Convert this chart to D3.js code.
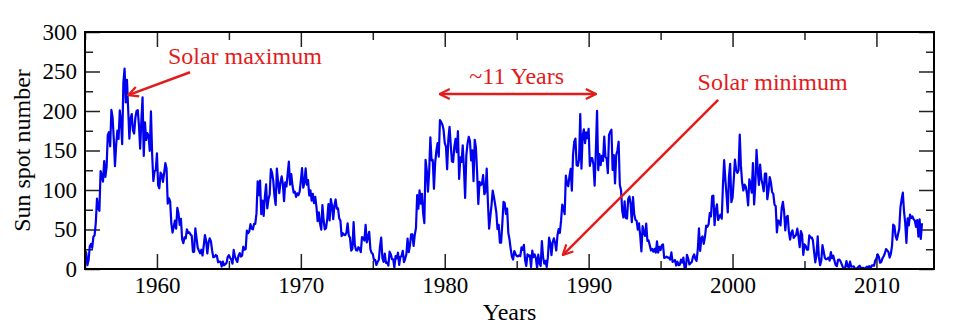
<!DOCTYPE html>
<html>
<head>
<meta charset="utf-8">
<script src="https://cdn.jsdelivr.net/npm/d3@7"></script>
<style>
  body { margin: 0; background: #fff; }
  text { font-family: "Liberation Serif", "Times New Roman", serif; }
</style>
</head>
<body>
<div id="chart"></div>
<script>
// monthly sun spot numbers, January 1955 onwards
const startYear = 1955;

const spots1955 = [
  23.1, 20.8, 4.9, 11.3, 28.9, 31.7, 26.7, 40.7, 42.7, 58.5, 89.2, 76.9,
  73.6, 124.0, 118.4, 110.7, 136.6, 116.6, 129.1, 169.6, 173.2, 155.3, 201.3, 192.1,
  165.0, 130.2, 157.4, 175.2, 164.6, 200.7, 187.2, 158.0, 235.8, 253.8, 210.9, 239.4,
  202.5, 164.9, 190.7, 196.0, 175.3, 171.5, 191.4, 200.2, 201.2, 181.5, 152.3, 187.6,
  217.4, 143.1, 185.7, 163.3, 172.0, 168.7, 149.6, 199.6, 145.2, 111.4, 124.0, 125.0,
  146.3, 106.0, 102.2, 122.0, 119.6, 110.2, 121.7, 134.1, 127.2, 82.8, 89.6, 85.6,
  57.9, 46.1, 53.0, 61.4, 51.0, 77.4, 70.2, 55.9, 63.6, 37.7, 32.6, 40.0,
  38.7, 50.3, 45.6, 46.4, 43.7, 42.0, 21.8, 21.8, 51.3, 39.5, 26.9, 23.2,
  19.8, 24.4, 17.1, 29.3, 43.0, 35.9, 19.6, 33.2, 38.8, 35.3, 23.4, 14.9,
  15.3, 17.7, 16.5, 8.6, 9.5, 9.1, 3.1, 9.3, 4.7, 6.1, 7.4, 15.1
];

const spots1965 = [
  17.5, 14.2, 11.7, 6.8, 24.1, 15.9, 11.9, 8.9, 16.8, 20.1, 15.8, 17.0,
  28.2, 24.4, 25.3, 48.7, 45.3, 47.7, 56.7, 51.2, 50.2, 57.2, 57.2, 70.4,
  110.9, 93.6, 111.8, 69.5, 86.5, 67.3, 91.5, 107.2, 76.8, 88.2, 94.3, 126.4,
  121.8, 111.9, 92.2, 81.2, 127.2, 110.3, 96.1, 109.3, 117.2, 107.7, 86.0, 109.8,
  104.4, 120.5, 135.8, 106.8, 120.0, 106.0, 96.8, 98.0, 91.3, 95.7, 93.5, 97.9,
  111.5, 127.8, 102.9, 109.5, 127.5, 106.8, 112.5, 93.0, 99.5, 86.6, 95.2, 83.5,
  91.3, 79.0, 60.7, 71.8, 57.5, 49.8, 81.0, 61.4, 50.2, 51.7, 63.2, 82.2,
  61.5, 88.4, 80.1, 63.2, 80.5, 88.0, 76.5, 76.8, 64.0, 61.3, 41.6, 45.3,
  43.4, 42.9, 46.0, 57.7, 42.4, 39.5, 23.1, 25.6, 59.3, 30.7, 23.9, 23.3,
  27.6, 26.0, 21.3, 40.3, 39.5, 36.0, 55.8, 33.6, 40.2, 47.1, 25.0, 20.5
];

const spots1975 = [
  18.9, 11.5, 11.5, 5.1, 9.0, 11.4, 28.2, 39.7, 13.9, 9.1, 19.4, 7.8,
  8.1, 4.3, 21.9, 18.8, 12.4, 12.2, 1.9, 16.4, 13.5, 20.6, 5.2, 15.3,
  16.4, 23.1, 8.7, 12.9, 18.6, 38.5, 21.4, 30.1, 44.0, 43.8, 29.1, 43.2,
  51.9, 93.6, 76.5, 99.7, 82.7, 95.1, 70.4, 58.1, 138.2, 125.1, 97.9, 122.7,
  166.6, 137.5, 138.0, 101.5, 134.4, 149.5, 159.4, 142.2, 188.4, 186.2, 183.0, 176.3,
  159.6, 155.0, 126.2, 164.1, 179.9, 157.3, 136.3, 135.4, 155.0, 164.7, 147.9, 174.4,
  114.0, 141.3, 135.5, 156.4, 127.5, 90.0, 143.8, 158.7, 167.3, 162.4, 137.5, 150.1,
  111.2, 163.6, 153.8, 122.0, 82.2, 110.4, 106.1, 107.6, 118.8, 94.7, 98.1, 127.0,
  84.3, 51.0, 66.5, 80.7, 99.2, 91.1, 82.2, 71.8, 50.3, 55.8, 33.3, 33.4,
  57.0, 85.1, 83.5, 69.7, 76.4, 46.1, 37.4, 25.5, 15.7, 12.0, 22.8, 18.7
];

const spots1985 = [
  16.5, 15.9, 17.2, 16.2, 27.5, 24.2, 30.7, 11.1, 3.9, 18.6, 16.2, 17.3,
  2.5, 23.2, 15.1, 18.5, 13.7, 1.1, 18.1, 7.4, 3.8, 35.4, 15.2, 6.8,
  10.4, 2.4, 14.7, 39.6, 33.0, 17.4, 33.9, 38.8, 33.3, 23.4, 42.7, 50.5,
  45.6, 61.2, 81.6, 76.8, 69.5, 118.3, 107.6, 104.8, 117.5, 126.8, 99.1, 144.9,
  161.3, 165.1, 131.4, 130.6, 138.5, 196.2, 126.9, 168.9, 176.7, 159.4, 173.0, 165.5,
  177.3, 130.5, 140.3, 140.3, 132.2, 105.4, 149.4, 200.3, 125.2, 145.5, 131.4, 143.1,
  136.9, 167.5, 141.9, 140.0, 121.3, 169.7, 173.7, 176.3, 125.3, 144.1, 108.2, 144.4,
  150.0, 161.1, 106.7, 99.8, 73.8, 65.2, 85.7, 64.5, 63.9, 88.7, 91.8, 82.6,
  59.3, 91.0, 69.8, 62.2, 61.3, 49.8, 57.9, 42.3, 22.2, 54.2, 46.3, 41.9,
  57.5, 35.6, 36.2, 29.9, 23.5, 25.4, 21.9, 25.5, 20.7, 34.9, 20.8, 28.0
];

const spots1995 = [
  24.0, 29.9, 31.1, 14.0, 14.5, 15.6, 14.5, 14.3, 11.8, 21.1, 9.0, 10.0,
  11.5, 4.4, 9.2, 4.8, 5.5, 11.8, 8.2, 14.4, 1.6, 0.9, 17.9, 13.3,
  5.7, 7.6, 8.7, 15.5, 18.5, 12.7, 10.4, 24.4, 51.3, 22.8, 39.0, 41.2,
  31.9, 40.3, 54.8, 53.4, 56.3, 70.7, 66.6, 92.2, 92.9, 55.5, 74.0, 81.9,
  62.0, 66.3, 68.8, 63.7, 106.4, 137.7, 113.5, 93.7, 71.5, 116.7, 133.2, 84.6,
  90.1, 112.9, 138.5, 125.5, 121.6, 124.9, 170.1, 130.5, 109.7, 99.4, 106.8, 104.4,
  95.6, 80.6, 113.5, 107.7, 96.6, 134.0, 81.8, 106.4, 150.7, 125.5, 106.5, 132.2,
  114.1, 107.4, 98.4, 120.7, 120.8, 88.3, 99.6, 116.4, 109.6, 97.5, 95.0, 81.6,
  79.5, 46.2, 61.5, 60.0, 55.2, 77.4, 85.0, 72.7, 48.8, 65.5, 67.3, 47.0,
  37.2, 46.0, 48.9, 39.3, 41.5, 43.2, 51.1, 40.9, 27.7, 48.0, 43.5, 17.9
];

const spots2005 = [
  31.3, 29.2, 24.5, 24.4, 42.6, 39.6, 39.9, 36.4, 22.1, 8.5, 18.0, 41.2,
  15.3, 4.9, 10.6, 30.2, 22.3, 13.9, 12.2, 12.9, 14.4, 10.5, 21.4, 13.6,
  16.9, 10.6, 4.8, 3.7, 11.7, 12.0, 10.0, 6.2, 2.4, 0.9, 1.7, 10.1,
  3.3, 2.1, 9.3, 2.9, 3.2, 3.4, 0.5, 0.5, 1.1, 2.9, 4.1, 0.8,
  1.5, 1.4, 0.7, 1.2, 2.9, 2.6, 3.5, 0.0, 4.2, 4.6, 4.2, 10.6,
  13.1, 18.6, 15.4, 7.9, 8.8, 13.5, 16.1, 19.6, 25.2, 23.5, 21.6, 14.5,
  19.0, 29.4, 56.2, 54.4, 41.6, 37.0, 43.9, 50.6, 78.0, 88.0, 96.7, 73.0,
  58.3, 33.1, 64.2, 55.2, 69.0, 64.5, 66.5, 63.0, 61.4, 53.3, 61.8, 40.8,
  62.9, 38.0, 57.9
];

const xMajorTicks = [1960, 1970, 1980, 1990, 2000, 2010];
const xMinorTicks = [1955, 1965, 1975, 1985, 1995, 2005];
const yMajorTicks = [0, 50, 100, 150, 200, 250, 300];
const yMinorTicks = [25, 75, 125, 175, 225, 275];

const width = 968, height = 331;
const margin = {top: 32, right: 34, bottom: 62, left: 85};
const red = '#e31b1b';

const spots = [].concat(spots1955, spots1965, spots1975, spots1985, spots1995, spots2005)
  .map((v, i) => ({year: startYear + i / 12, value: v}));

const svg = d3.select('#chart').append('svg')
  .attr('width', width)
  .attr('height', height);

const x = d3.scaleLinear().domain([1955, 2014]).range([margin.left, width - margin.right]);
const y = d3.scaleLinear().domain([0, 300]).range([height - margin.bottom, margin.top]);

const plotW = width - margin.left - margin.right;
const plotH = height - margin.top - margin.bottom;

// inward ticks on all four sides
function ticks(axisFn, values, size, tr, labels) {
  const g = svg.append('g')
    .attr('transform', tr)
    .call(axisFn.tickValues(values).tickSize(size).tickPadding(8)
      .tickFormat(labels ? d3.format('d') : ''));
  g.select('.domain').remove();
  g.selectAll('.tick line').attr('stroke', '#222').attr('stroke-width', 1.5);
  g.selectAll('.tick text').attr('fill', '#000').style('font-size', '23px');
  return g;
}

const atBottom = `translate(0,${height - margin.bottom})`;
const atTop = `translate(0,${margin.top})`;
const atLeft = `translate(${margin.left},0)`;
const atRight = `translate(${width - margin.right},0)`;

const xb = ticks(d3.axisBottom(x), xMajorTicks, -15, atBottom, true);
xb.selectAll('.tick text').attr('y', 8).attr('dy', '0.71em');
ticks(d3.axisBottom(x), xMinorTicks, -8, atBottom, false);
ticks(d3.axisTop(x), xMajorTicks, -15, atTop, false);
ticks(d3.axisTop(x), xMinorTicks, -8, atTop, false);

const yl = ticks(d3.axisLeft(y), yMajorTicks, -15, atLeft, true);
yl.selectAll('.tick text').attr('x', -8);
ticks(d3.axisLeft(y), yMinorTicks, -8, atLeft, false);
ticks(d3.axisRight(y), yMajorTicks, -15, atRight, false);
ticks(d3.axisRight(y), yMinorTicks, -8, atRight, false);

// data line
svg.append('path')
  .datum(spots)
  .attr('fill', 'none')
  .attr('stroke', '#0000f0')
  .attr('stroke-width', 2.2)
  .attr('stroke-linejoin', 'round')
  .attr('d', d3.line().x(d => x(d.year)).y(d => y(d.value)));

// frame
svg.append('rect')
  .attr('x', margin.left)
  .attr('y', margin.top)
  .attr('width', plotW)
  .attr('height', plotH)
  .attr('fill', 'none')
  .attr('stroke', '#000')
  .attr('stroke-width', 2);

// axis titles
svg.append('text')
  .attr('x', x(1984.5))
  .attr('y', 320)
  .attr('text-anchor', 'middle')
  .style('font-size', '24px')
  .text('Years');

svg.append('text')
  .attr('transform', `translate(30,${margin.top + plotH / 2}) rotate(-90)`)
  .attr('text-anchor', 'middle')
  .style('font-size', '24px')
  .text('Sun spot number');

// annotations
const defs = svg.append('defs');
defs.append('marker')
  .attr('id', 'head')
  .attr('viewBox', '0 0 12 12')
  .attr('refX', 11)
  .attr('refY', 6)
  .attr('markerWidth', 12)
  .attr('markerHeight', 12)
  .attr('markerUnits', 'userSpaceOnUse')
  .attr('orient', 'auto-start-reverse')
  .append('path')
  .attr('d', 'M1,1 L11,6 L1,11')
  .attr('fill', 'none')
  .attr('stroke', red)
  .attr('stroke-width', 2.2);

function arrow(x1, y1, x2, y2, both) {
  const l = svg.append('line')
    .attr('x1', x(x1)).attr('y1', y(y1))
    .attr('x2', x(x2)).attr('y2', y(y2))
    .attr('stroke', red)
    .attr('stroke-width', 2.5)
    .attr('marker-end', 'url(#head)');
  if (both) l.attr('marker-start', 'url(#head)');
}

function note(xv, yv, label, anchor) {
  svg.append('text')
    .attr('x', x(xv))
    .attr('y', y(yv))
    .attr('text-anchor', anchor)
    .attr('fill', red)
    .style('font-size', '24px')
    .text(label);
}

note(1960.76, 259.5, 'Solar maximum', 'start');
arrow(1962.3, 249, 1958.0, 220, false);

note(1985.0, 234, '~11 Years', 'middle');
arrow(1979.65, 221.5, 1990.5, 221.5, true);

note(1997.57, 226.6, 'Solar minimum', 'start');
arrow(1999.0, 214, 1988.2, 17.7, false);
</script>
</body>
</html>
